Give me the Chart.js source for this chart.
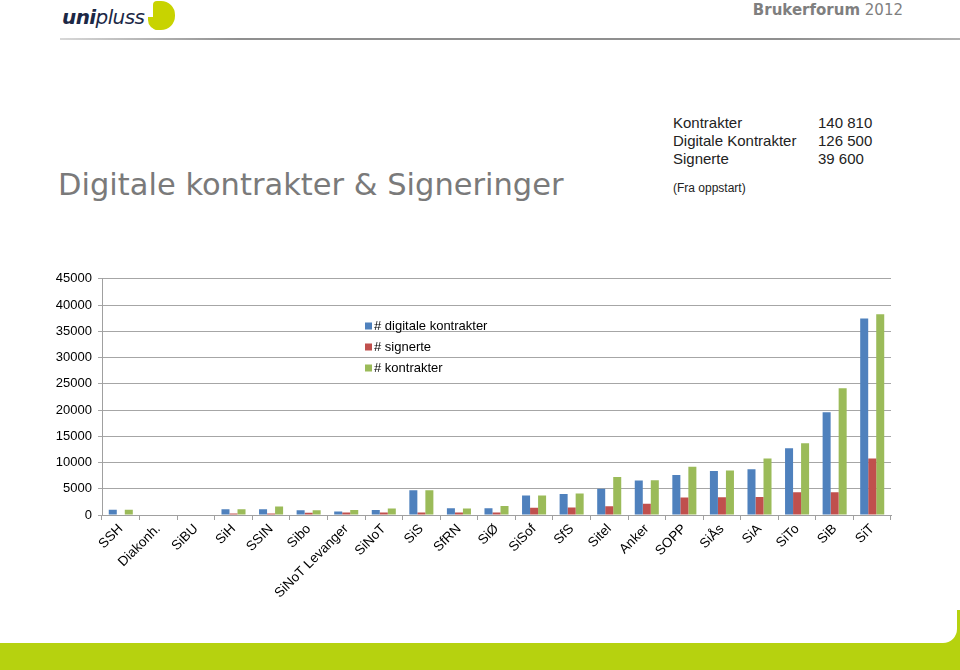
<!DOCTYPE html>
<html>
<head>
<meta charset="utf-8">
<script src="https://cdn.jsdelivr.net/npm/chart.js@4.4.1/dist/chart.umd.min.js"></script>
<style>
  html, body { margin:0; padding:0; background:#fff; }
  body { width:960px; height:670px; position:relative; overflow:hidden; font-family:"Liberation Sans", Arial, sans-serif; }
  .abs { position:absolute; white-space:nowrap; }
  #logo { left:62px; top:5px; font-family:"DejaVu Sans", sans-serif; font-style:italic; font-size:20px; color:#1c2846; letter-spacing:-0.6px; }
  #logo b { font-weight:900; }
  #logoMark { left:153px; top:1px; width:22px; height:29px; background:#c8d300; border-radius:4px 14px 14px 4px; }
  #logoMark2 { left:148px; top:17px; width:12px; height:13px; background:#c8d300; border-radius:0 0 0 10px; }
  #hdr { right:57px; top:1px; font-family:"DejaVu Sans", sans-serif; font-size:15px; color:#7f7f7f; }
  #hdr b { font-weight:bold; }
  #hline { left:60px; top:38px; width:900px; height:2px; background:linear-gradient(to right,#d8d8d8,#8f8f8f 20%,#8f8f8f 80%,#b0b0b0); }
  #title { left:58px; top:167px; font-family:"DejaVu Sans", sans-serif; font-size:30.5px; color:#7a7a7a; }
  .info { font-size:15px; color:#222; }
  .small { font-size:12px; color:#222; }
  #band { left:0; top:610px; width:960px; height:60px; background:#b6d20f; }
  #bandWhite { left:0; top:600px; width:957px; height:43px; background:#fff; border-bottom-right-radius:14px; }
  #chartBox { left:40px; top:265px; width:880px; height:350px; }
</style>
</head>
<body>
<div id="band" class="abs"></div>
<div id="bandWhite" class="abs"></div>
<div id="logo" class="abs"><b>uni</b>pluss</div>
<div id="logoMark2" class="abs"></div>
<div id="logoMark" class="abs"></div>
<div id="hdr" class="abs"><b>Brukerforum</b> 2012</div>
<div id="hline" class="abs"></div>
<div id="title" class="abs">Digitale kontrakter &amp; Signeringer</div>

<div class="abs info" style="left:673px; top:114px;">Kontrakter</div>
<div class="abs info" style="left:818px; top:114px;">140 810</div>
<div class="abs info" style="left:673px; top:132px;">Digitale Kontrakter</div>
<div class="abs info" style="left:818px; top:132px;">126 500</div>
<div class="abs info" style="left:673px; top:150px;">Signerte</div>
<div class="abs info" style="left:818px; top:150px;">39 600</div>
<div class="abs small" style="left:673px; top:181px;">(Fra oppstart)</div>

<div id="chartBox" class="abs"><canvas id="c" width="880" height="350"></canvas></div>

<script>
const categories = ["SSH","Diakonh.","SiBU","SiH","SSIN","Sibo","SiNoT Levanger","SiNoT","SiS","SfRN","SiØ","SiSof","SfS","Sitel","Anker","SOPP","SiÅs","SiA","SiTo","SiB","SiT"];
const digitaleKontrakter = [1000,0,0,1100,1100,900,650,950,4700,1300,1300,3700,4000,5000,6550,7600,8370,8700,12700,19580,37450];
const signerte = [0,0,0,300,300,450,500,500,500,500,500,1400,1450,1650,2150,3350,3400,3450,4350,4350,10760];
const kontrakter = [1000,0,0,1100,1600,900,950,1250,4700,1250,1700,3700,4100,7250,6600,9200,8500,10750,13650,24170,38270];
const seriesLabels = ["# digitale kontrakter","# signerte","# kontrakter"];
const yMax = 45000, yStep = 5000;

const legendPlugin = {
  id: 'insideLegend',
  afterDraw(chart) {
    const ctx = chart.ctx;
    const x0 = 325, y0 = 61, dy = 21;
    ctx.save();
    ctx.font = '13px "Liberation Sans", Arial, sans-serif';
    ctx.textBaseline = 'middle';
    ctx.textAlign = 'left';
    chart.data.datasets.forEach((ds, i) => {
      const y = y0 + i * dy;
      ctx.fillStyle = ds.backgroundColor;
      ctx.fillRect(x0, y - 3.5, 7, 7);
      ctx.fillStyle = '#000';
      ctx.fillText(ds.label, x0 + 9, y);
    });
    ctx.restore();
  }
};

new Chart(document.getElementById('c'), {
  type: 'bar',
  data: {
    labels: categories,
    datasets: [
      { label: seriesLabels[0], data: digitaleKontrakter, backgroundColor: '#4f81bd' },
      { label: seriesLabels[1], data: signerte, backgroundColor: '#c0504d' },
      { label: seriesLabels[2], data: kontrakter, backgroundColor: '#9bbb59' }
    ]
  },
  options: {
    responsive: false,
    animation: false,
    devicePixelRatio: 1,
    layout: { padding: { top: 12, right: 29, left: 0, bottom: 0 } },
    datasets: { bar: { categoryPercentage: 0.64, barPercentage: 1.0 } },
    plugins: { legend: { display: false }, tooltip: { enabled: false } },
    scales: {
      x: {
        offset: true,
        grid: { display: true, drawOnChartArea: false, drawTicks: true, tickLength: 5, offset: true, color: '#a0a0a0' },
        border: { display: true, color: '#a0a0a0' },
        ticks: { autoSkip: false, minRotation: 45, maxRotation: 45, color: '#000', padding: 1,
                 font: { family: '"Liberation Sans", Arial, sans-serif', size: 13.5 } },
        afterFit(scale) { scale.height = 100; }
      },
      y: {
        min: 0, max: yMax,
        ticks: { stepSize: yStep, color: '#000', padding: 6,
                 callback: (v) => String(v),
                 font: { family: '"Liberation Sans", Arial, sans-serif', size: 13 } },
        grid: { color: '#a6a6a6', lineWidth: 1, drawTicks: true, tickLength: 4 },
        border: { display: true, color: '#a0a0a0' },
        afterFit(scale) { scale.width = 62; }
      }
    }
  },
  plugins: [legendPlugin]
});
</script>
</body>
</html>
